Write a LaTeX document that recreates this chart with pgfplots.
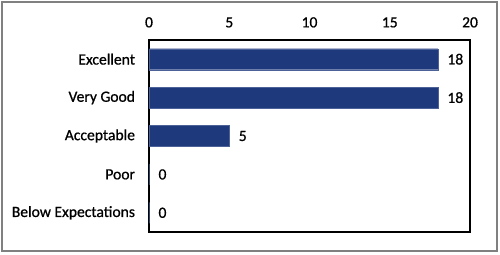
\documentclass[border=0pt]{standalone}
\usepackage{pgfplots}
\pgfplotsset{compat=1.18}
\usepackage{fontspec}
\setmainfont{Carlito}[FakeBold=0.8]
\definecolor{barblue}{RGB}{30,58,125}
\definecolor{frame}{RGB}{128,128,128}
\newcommand\cf{\fontsize{15.6bp}{18bp}\selectfont}
\begin{document}
\begin{tikzpicture}[x=1bp,y=1bp]
\useasboundingbox (-149,-22) rectangle (351,232);
\draw[frame, line width=1.5bp] (-147,-19) rectangle (348,230);
\begin{axis}[
  at={(0,0)}, anchor=south west,
  scale only axis, width=321bp, height=192bp,
  xbar, bar width=21bp,
  xmin=0, xmax=20,
  ymin=-0.5, ymax=4.5, y dir=reverse,
  xtick={0,5,10,15,20},
  xticklabel pos=top,
  ytick={0,1,2,3,4},
  yticklabels={Excellent,Very Good,Acceptable,Poor,Below Expectations},
  major tick length=0pt,
  axis line style={black, line width=1.6bp},
  /pgf/number format/assume math mode=true,
  ticklabel style={font=\cf},
  yticklabel style={xshift=-10.5bp},
  xticklabel style={yshift=9bp},
  nodes near coords,
  nodes near coords style={font=\cf, anchor=west, xshift=6bp},
  enlargelimits=false,
  clip=false,
]
\addplot[fill=barblue, draw=barblue!80!white] coordinates {(18,0) (18,1) (5,2) (0,3) (0,4)};
\end{axis}
\end{tikzpicture}
\end{document}
